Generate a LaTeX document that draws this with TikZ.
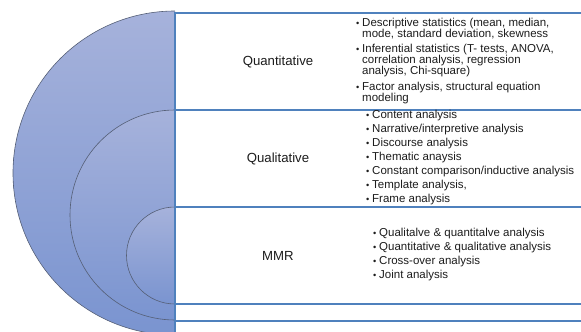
\documentclass[tikz,border=0pt]{standalone}
\usepackage{graphicx}
\usepackage{fontspec}
\setmainfont{Liberation Sans}
\definecolor{discTop}{RGB}{166,178,219}
\definecolor{discBot}{RGB}{122,148,208}
\definecolor{ringLine}{RGB}{85,95,118}
\definecolor{rowBlue}{RGB}{79,129,189}
\definecolor{ink}{RGB}{28,28,28}
% bulleted line and its continuation
\newcommand{\bitem}[1]{\makebox[6pt][l]{\raisebox{0.3pt}{\scalebox{0.8}{•}}}#1}
\newcommand{\bcont}[1]{\hspace*{6pt}#1}
\begin{document}
\begin{tikzpicture}[x=1pt,y=1pt,
  disc/.style={top color=discTop, bottom color=discBot},
  ring/.style={draw=ringLine, line width=0.6pt},
  rowline/.style={draw=rowBlue, line width=1.2pt},
  head/.style={font=\fontsize{13.2}{15}\selectfont, text=ink, inner sep=0pt},
  items/.style={align=left, text=ink, inner sep=0pt, anchor=west},
]
\useasboundingbox (0,0) rectangle (581,-332);
\begin{scope}
\clip (0,0) rectangle (581,-332);
% nested half discs
\shade[disc] (175,-11) arc[start angle=90, end angle=270, radius=162] -- cycle;
\shade[disc] (175,-110) arc[start angle=90, end angle=270, radius=105] -- cycle;
\shade[disc] (175,-207) arc[start angle=90, end angle=270, radius=48.5] -- cycle;
\draw[ring] (175,-11) arc[start angle=90, end angle=270, radius=162];
\draw[ring] (175,-110) arc[start angle=90, end angle=270, radius=105];
\draw[ring] (175,-207) arc[start angle=90, end angle=270, radius=48.5];
\end{scope}
% row borders
\draw[rowline] (175,-13) -- (581,-13);
\draw[rowline] (175,-110) -- (581,-110);
\draw[rowline] (175,-207) -- (581,-207);
\draw[rowline] (175,-304) -- (581,-304);
\draw[rowline] (175,-321) -- (581,-321);
\draw[rowline, line width=1.5pt] (175,-12.4) -- (175,-332);
% row headings
\node[head] (quant) at (278,-62) {Quantitative};
\node[head] (qual) at (278,-159) {Qualitative};
\node[head] (mmr) at (278,-256) {MMR};
% row contents
\node[items, font=\fontsize{11.5}{11}\selectfont] (quantlist) at (356,-61)
  {\bitem{Descriptive statistics (mean, median,}\\
   \bcont{mode, standard deviation, skewness}\\[4.5pt]
   \bitem{Inferential statistics (T- tests, ANOVA,}\\
   \bcont{correlation analysis, regression}\\
   \bcont{analysis, Chi-square)}\\[4.5pt]
   \bitem{Factor analysis, structural equation}\\
   \bcont{modeling}};
\node[items, font=\fontsize{11.5}{14}\selectfont] (quallist) at (366,-158)
  {\bitem{Content analysis}\\
   \bitem{Narrative/interpretive analysis}\\
   \bitem{Discourse analysis}\\
   \bitem{Thematic anaysis}\\
   \bitem{Constant comparison/inductive analysis}\\
   \bitem{Template analysis,}\\
   \bitem{Frame analysis}};
\node[items, font=\fontsize{11.5}{14}\selectfont] (mmrlist) at (373,-255)
  {\bitem{Qualitalve \& quantitalve analysis}\\
   \bitem{Quantitative \& qualitative analysis}\\
   \bitem{Cross-over analysis}\\
   \bitem{Joint analysis}};
\end{tikzpicture}
\end{document}
